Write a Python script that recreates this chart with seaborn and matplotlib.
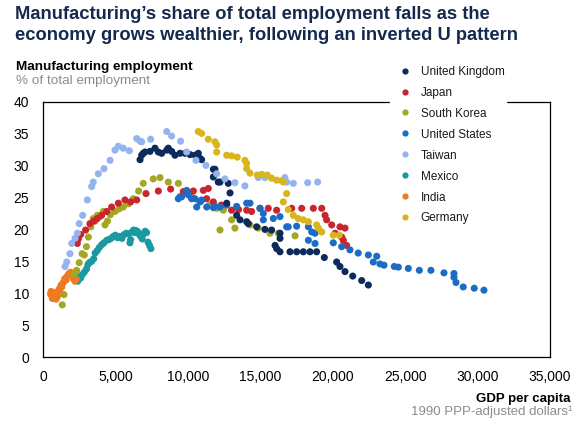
import matplotlib
matplotlib.use("Agg")
import matplotlib.pyplot as plt
from matplotlib.lines import Line2D
from matplotlib.ticker import FuncFormatter
import seaborn as sns
import pandas as pd

# ---------------- data (GDP per capita, 1990 PPP $  /  manufacturing share %) ----------------
countries = ["United Kingdom", "Japan", "South Korea", "United States",
             "Taiwan", "Mexico", "India", "Germany"]
colors = ["#0c2a5c", "#c9252e", "#a4a722", "#1c6cc6",
          "#93b4ee", "#1a9aa0", "#f07a22", "#d9b51c"]

india_x = [520, 560, 600, 650, 700, 750, 800, 850, 900, 950, 1000, 1050, 1100, 1150,
           1200, 1250, 1300, 1400, 1500, 1600, 1700, 1800, 1900, 2000, 2100, 2200, 2300]
india_y = [9.9, 10.3, 9.6, 9.2, 9.4, 9.9, 10.1, 9.5, 9.1, 9.3, 9.6, 10.0, 10.6, 10.4,
           10.9, 11.3, 11.0, 11.7, 12.3, 12.1, 12.8, 13.1, 13.3, 12.9, 12.3, 11.9, 12.2]

mexico_x = [2300, 2400, 2500, 2600, 2700, 2850, 3000, 3100, 3200, 3350, 3500, 3600, 3750,
            3900, 4050, 4200, 4400, 4550, 4700, 4850, 5000, 5150, 5300, 5450, 5600, 5750,
            5900, 6000, 6050, 6150, 6250, 6350, 6450, 6550, 6650, 6750, 6850, 6950, 7050,
            7150, 7250, 7350, 7450]
mexico_y = [12.3, 11.9, 12.6, 12.4, 12.9, 13.3, 13.8, 14.5, 14.8, 15.0, 15.4, 16.3, 16.7,
            17.2, 17.6, 17.9, 18.3, 18.4, 18.6, 18.9, 19.1, 18.7, 18.9, 18.6, 19.2, 19.4,
            19.3, 17.9, 18.4, 19.6, 19.9, 19.5, 19.8, 19.6, 19.2, 18.9, 18.5, 19.3, 19.7,
            19.5, 18.0, 17.5, 17.0]

korea_x = [1330, 1450, 2150, 2320, 2500, 2700, 2850, 3000, 3130, 3300, 3470, 3600, 3750,
           3930, 4160, 4280, 4450, 4650, 4970, 5250, 5540, 5900, 6230, 6600, 6920, 7610,
           8080, 8650, 9340, 9700, 10300, 10900, 11500, 12000, 12220, 12450, 13020, 13250,
           14290, 14860, 15670, 16240, 17400]
korea_y = [8.2, 9.8, 13.0, 13.6, 14.8, 16.2, 16.0, 17.3, 18.8, 20.4, 21.7, 21.3, 22.2,
           22.0, 22.8, 20.7, 21.3, 22.3, 22.8, 23.2, 23.5, 24.0, 24.8, 26.0, 27.2, 27.9,
           28.1, 27.4, 27.2, 25.9, 25.0, 24.4, 23.8, 23.3, 19.9, 23.0, 21.5, 20.2,
           20.7, 20.2, 19.4, 19.4, 19.0]

japan_x = [2370, 2440, 2600, 2940, 3240, 3500, 3750, 4050, 4400, 4740, 5200, 5660, 6050,
           6470, 7110, 7960, 8810, 9690, 10380, 11070, 11410, 11300, 11760, 12300, 13020,
           13500, 14060, 14400, 14980, 15550, 16130, 17170, 17860, 18660, 19240, 19470,
           19580, 19930, 20160, 20500, 20620, 20730, 20850, 20960]
japan_y = [17.8, 18.5, 19.2, 19.9, 20.9, 21.3, 21.7, 22.2, 22.8, 23.5, 24.1, 24.6, 24.3,
           24.6, 25.6, 26.0, 26.3, 25.9, 26.0, 26.1, 26.4, 24.8, 24.3, 23.8, 23.0,
           23.1, 23.0, 22.8, 23.3, 23.3, 23.0, 23.3, 23.3, 23.3, 23.3, 22.2,
           21.5, 20.7, 19.4, 20.4, 18.8, 18.3, 20.2, 17.5]

us_x = [9340, 9460, 9570, 9920, 10030, 10260, 10490, 10610, 10840, 10950, 11300, 11760,
        11870, 12220, 12680, 13370, 14060, 14290, 14980, 15210, 15210, 15900, 16360, 16820,
        16930, 17510, 18320, 18550, 18780, 18320, 18780, 20040, 20620, 21190, 21760, 22460,
        23040, 22800, 23260, 23540, 24250, 24530, 25220, 25980, 26780, 27680, 28370, 28370,
        28510, 29010, 29770, 30440]
us_y = [24.8, 25.1, 25.1, 26.1, 25.4, 24.8, 24.8, 23.5, 24.3, 24.6, 23.5, 23.4,
        23.6, 23.5, 23.8, 23.6, 24.1, 24.1, 23.3, 22.5, 21.5, 21.7, 22.0, 20.4,
        20.4, 20.5, 20.4, 19.6, 19.4, 18.3, 17.8, 17.9, 17.3, 16.8, 16.3, 16.0,
        15.8, 14.9, 14.6, 14.4, 14.2, 14.1, 13.9, 13.6, 13.6, 13.2, 13.1, 12.5,
        11.7, 11.0, 10.8, 10.5]

uk_x = [6700, 6810, 6920, 7040, 7390, 7730, 7960, 8190, 8540, 8650, 8880, 9110, 9460, 9800,
        10150, 10490, 10720, 10840, 10950, 11760, 11870, 11760, 12100, 12220, 12790, 12910,
        12680, 13370, 13600, 14060, 14170, 14750, 15320, 15780, 16360, 16360, 16020, 16130,
        16360, 17050, 17510, 17970, 18430, 18890, 19420, 20270, 20500, 20850, 21380, 22000,
        22460]
uk_y = [30.9, 31.6, 31.9, 32.1, 32.2, 32.7, 32.1, 31.9, 32.4, 32.7, 32.2, 31.6, 31.9, 31.9,
        31.7, 31.6, 31.9, 31.1, 30.9, 29.4, 29.4, 28.2, 27.4, 27.4, 27.2, 25.7,
        24.1, 22.2, 21.5, 21.2, 20.9, 20.4, 20.0, 19.9, 19.4, 18.6, 17.5, 17.0,
        16.5, 16.5, 16.5, 16.5, 16.5, 16.5, 15.6, 14.9, 14.2, 13.4, 12.7, 12.0,
        11.3]

taiwan_x = [1520, 1640, 1860, 1980, 2210, 2370, 2500, 2740, 3060, 3360, 3470, 3820, 4210,
            4630, 4970, 5200, 5540, 5960, 6470, 6700, 6810, 7430, 8540, 8880, 9500, 9920,
            10560, 11250, 11990, 12560, 13250, 13940, 14860, 15320, 16700, 16820, 17280,
            18270, 18960]
taiwan_y = [14.2, 14.9, 16.2, 17.8, 18.6, 19.4, 20.9, 22.2, 24.6, 26.7, 27.4, 28.7, 29.5,
            30.8, 32.4, 33.0, 32.7, 32.3, 34.2, 33.8, 33.7, 34.1, 35.3, 34.6, 33.8, 32.1,
            30.8, 30.0, 28.7, 27.9, 27.3, 26.8, 28.1, 28.1, 28.1, 27.4, 27.2,
            27.3, 27.4]

germany_x = [10720, 10950, 11410, 11870, 11990, 11990, 12680, 13020, 13410, 13940, 14060,
             14060, 14290, 14790, 15100, 15480, 15780, 16130, 16480, 16590, 16820, 16590,
             16930, 17280, 17620, 17970, 18320, 18890, 19010, 19240, 20040, 20450]
germany_y = [35.3, 35.0, 34.1, 33.7, 33.2, 32.1, 31.6, 31.5, 31.3, 30.8, 30.3,
             29.5, 28.8, 28.5, 28.6, 28.5, 28.0, 27.7, 27.6, 27.4, 25.6, 24.3,
             23.1, 22.2, 21.7, 21.5, 21.2, 20.7, 20.2, 19.6, 19.1, 19.1]

x_ticks = [0, 5000, 10000, 15000, 20000, 25000, 30000, 35000]
y_ticks = [0, 5, 10, 15, 20, 25, 30, 35, 40]

# drawing order (later = on top)
series = [("Mexico", mexico_x, mexico_y), ("India", india_x, india_y),
          ("South Korea", korea_x, korea_y), ("Japan", japan_x, japan_y),
          ("United States", us_x, us_y), ("United Kingdom", uk_x, uk_y),
          ("Taiwan", taiwan_x, taiwan_y), ("Germany", germany_x, germany_y)]
df = pd.concat([pd.DataFrame({"country": n, "gdp": xs, "mfg": ys}) for n, xs, ys in series],
               ignore_index=True)
palette = dict(zip(countries, colors))

# ---------------- figure ----------------
sns.set_style("white")
plt.rcParams["font.family"] = ["Liberation Sans", "DejaVu Sans"]

fig = plt.figure(figsize=(5.76, 4.24), dpi=100)
ax = fig.add_axes([43 / 576, 1 - 357.3 / 424, 507 / 576, 255.8 / 424])

sns.scatterplot(data=df, x="gdp", y="mfg", hue="country", palette=palette,
                s=26, linewidth=0, alpha=1, legend=False, ax=ax)

ax.set_xlim(0, 35000)
ax.set_ylim(0, 40)
ax.set_xticks(x_ticks)
ax.set_yticks(y_ticks)
ax.xaxis.set_major_formatter(FuncFormatter(lambda v, p: f"{int(v):,}"))
ax.set_xlabel("")
ax.set_ylabel("")
ax.tick_params(axis="both", direction="in", length=3.6, width=0.8, color="black",
               labelsize=10, labelcolor="black")
ax.tick_params(axis="x", pad=9)
ax.tick_params(axis="y", pad=10)
for sp in ax.spines.values():
    sp.set_visible(True)
    sp.set_color("black")
    sp.set_linewidth(0.9)

handles = [Line2D([], [], marker="o", linestyle="", color=c, markersize=4.5,
                  markeredgewidth=0) for c in colors]
leg = ax.legend(handles, countries, loc="upper left",
                bbox_to_anchor=(390 / 576, 1 - 64.5 / 424), bbox_transform=fig.transFigure,
                frameon=True, fancybox=False, facecolor="white", edgecolor="white",
                framealpha=1, fontsize=8.5, borderpad=0.1, borderaxespad=0,
                handlelength=2.4, handletextpad=0.1, labelspacing=0.76)
for t in leg.get_texts():
    t.set_color("#1a1a1a")

# ---------------- texts ----------------
navy = "#14294d"
fig.text(15 / 576, 1 - 19 / 424, "Manufacturing\u2019s share of total employment falls as the",
         fontsize=13.2, fontweight="bold", color=navy, va="baseline", ha="left")
fig.text(15 / 576, 1 - 40 / 424, "economy grows wealthier, following an inverted U pattern",
         fontsize=13.2, fontweight="bold", color=navy, va="baseline", ha="left")
fig.text(16 / 576, 1 - 70 / 424, "Manufacturing employment", fontsize=9.7,
         fontweight="bold", color="black", va="baseline", ha="left")
fig.text(16 / 576, 1 - 84 / 424, "% of total employment", fontsize=9.7,
         color="#8c8c8c", va="baseline", ha="left")
fig.text(571 / 576, 1 - 402 / 424, "GDP per capita", fontsize=9.5,
         fontweight="bold", color="black", va="baseline", ha="right")
fig.text(572 / 576, 1 - 414.5 / 424, "1990 PPP-adjusted dollars\u00b9", fontsize=9.5,
         color="#8c8c8c", va="baseline", ha="right")

fig.savefig("out.png", dpi=100)
